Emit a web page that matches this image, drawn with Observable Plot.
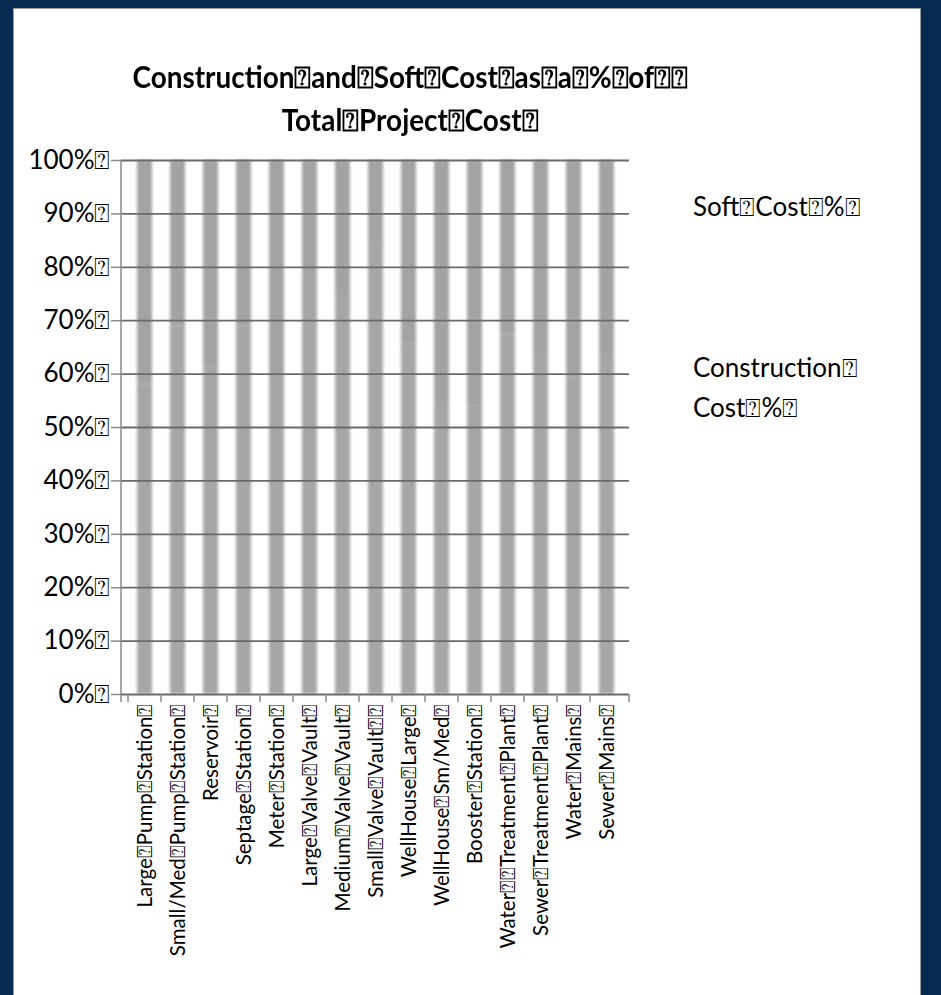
<!DOCTYPE html>
<html>
<head>
<meta charset="utf-8">
<script src="https://cdn.jsdelivr.net/npm/d3@7"></script>
<script src="https://cdn.jsdelivr.net/npm/@observablehq/plot@0.6"></script>
<style>
  html, body { margin: 0; padding: 0; background: #ffffff; }
  #frame { position: relative; width: 941px; height: 995px; background: #05294f; overflow: hidden; }
  #panel { position: absolute; left: 13px; top: 8px; right: 20px; bottom: -10px; background: #ffffff; border: 1.5px solid #9a9a9a; box-sizing: border-box; }
  #chart { position: absolute; left: 0; top: 0; }
  .title { position: absolute; left: 0; width: 820px; text-align: center; font-family: Lato, "Open Sans", sans-serif; font-weight: 700; font-size: 30px; color: #000; white-space: pre; transform: scaleX(0.93); transform-origin: 410px 0; }
  .legend { position: absolute; left: 693px; font-family: Lato, "Open Sans", sans-serif; font-size: 26px; color: #000; line-height: 40px; white-space: pre; }
</style>
</head>
<body>
<div id="frame">
  <div id="panel"></div>
  <div id="chart"></div>
  <div class="title" id="t1" style="top:58px"></div>
  <div class="title" id="t2" style="top:101px"></div>
  <div class="legend" id="l1" style="top:186px"></div>
  <div class="legend" id="l2" style="top:347px"></div>
</div>
<script>
const B = "\u2370"; // missing-glyph box shown in the reference in place of spaces

const categories = [
  "Large" + B + "Pump" + B + "Station" + B,
  "Small/Med" + B + "Pump" + B + "Station" + B,
  "Reservoir" + B,
  "Septage" + B + "Station" + B,
  "Meter" + B + "Station" + B,
  "Large" + B + "Valve" + B + "Vault" + B,
  "Medium" + B + "Valve" + B + "Vault" + B,
  "Small" + B + "Valve" + B + "Vault" + B + B,
  "WellHouse" + B + "Large" + B,
  "WellHouse" + B + "Sm/Med" + B,
  "Booster" + B + "Station" + B,
  "Water" + B + B + "Treatment" + B + "Plant" + B,
  "Sewer" + B + "Treatment" + B + "Plant" + B,
  "Water" + B + "Mains" + B,
  "Sewer" + B + "Mains" + B
];
const seriesNames = ["Construction" + B + "Cost" + B + "%" + B, "Soft" + B + "Cost" + B + "%" + B];
const constructionPct = [0.58, 0.69, 0.615, 0.69, 0.59, 0.79, 0.745, 0.85, 0.655, 0.545, 0.54, 0.675, 0.635, 0.595, 0.635];
const softPct =         [0.42, 0.31, 0.385, 0.31, 0.41, 0.21, 0.255, 0.15, 0.345, 0.455, 0.46, 0.325, 0.365, 0.405, 0.365];
const yTicks = [0, 0.1, 0.2, 0.3, 0.4, 0.5, 0.6, 0.7, 0.8, 0.9, 1.0];
const titleLines = [
  "Construction" + B + "and" + B + "Soft" + B + "Cost" + B + "as" + B + "a" + B + "%" + B + "of" + B + B,
  "Total" + B + "Project" + B + "Cost" + B
];
const legendLines = [["Soft" + B + "Cost" + B + "%" + B], ["Construction" + B, "Cost" + B + "%" + B]];

const rows = [];
categories.forEach((c, i) => rows.push({category: c, series: seriesNames[0], value: constructionPct[i]}));
categories.forEach((c, i) => rows.push({category: c, series: seriesNames[1], value: softPct[i]}));

const pi = 0.56;
const chart = Plot.plot({
  width: 941,
  height: 995,
  marginLeft: 121,
  marginRight: 312,
  marginTop: 160,
  marginBottom: 301,
  style: {background: "transparent", fontFamily: "Lato, 'Open Sans', sans-serif", color: "#000"},
  x: {domain: categories, paddingInner: pi, paddingOuter: pi / 2, axis: null},
  y: {domain: [0, 1], axis: null},
  color: {domain: seriesNames, range: ["#a6a6a6", "#a3a3a3"]},
  marks: [
    Plot.barY(rows, {x: "category", y: "value", fill: "series"}),
    Plot.gridY(yTicks, {stroke: "#6a6a6a", strokeOpacity: 1, strokeWidth: 1.8}),
    Plot.axisY(yTicks, {tickSize: 10, tickPadding: 1, fontSize: 26, stroke: "#8a8a8a", strokeWidth: 1.5, label: null,
      tickFormat: d => Math.round(d * 100) + "%" + B}),
    Plot.axisX({tickSize: 0, tickPadding: 9, tickRotate: -90, fontSize: 20.5, label: null})
  ]
});
document.getElementById("chart").appendChild(chart);

// soft-edged columns like the reference: an SVG blur filter on the bar group
const svg = d3.select(chart);
svg.append("defs").append("filter").attr("id", "soft").attr("x", "-50%").attr("y", "-5%").attr("width", "200%").attr("height", "110%")
  .append("feGaussianBlur").attr("stdDeviation", 1.6);
svg.selectAll("g[aria-label='bar']").attr("filter", "url(#soft)");

// left axis line and category-boundary ticks from the library's own scales
const xs = chart.scale("x"), ys = chart.scale("y");
const step = xs.step, bw = xs.bandwidth;
const x0 = xs.range[0], x1 = xs.range[1];
const yBot = ys.apply(0), yTop = ys.apply(1);
const g = svg.append("g").attr("stroke", "#8a8a8a").attr("stroke-width", 1.5);
g.append("line").attr("x1", x0).attr("x2", x0).attr("y1", yTop).attr("y2", yBot + 8);
const bounds = categories.map(c => xs.apply(c) - (step - bw) / 2).concat([x1]);
bounds.forEach(b => g.append("line").attr("x1", b).attr("x2", b).attr("y1", yBot).attr("y2", yBot + 8));

document.getElementById("t1").textContent = titleLines[0];
document.getElementById("t2").textContent = titleLines[1];
document.getElementById("l1").textContent = legendLines[0].join("\n");
document.getElementById("l2").textContent = legendLines[1].join("\n");
</script>
</body>
</html>
